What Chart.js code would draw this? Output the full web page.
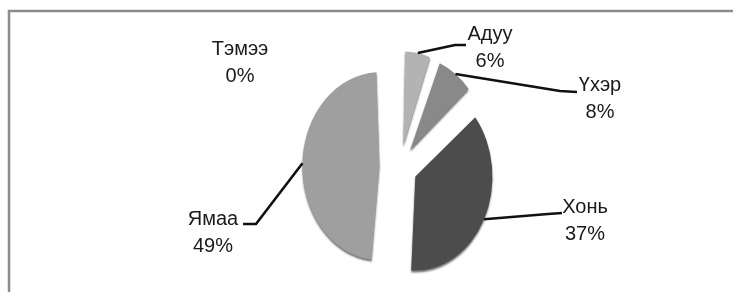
<!DOCTYPE html>
<html>
<head>
<meta charset="utf-8">
<title>Мал сүрэг</title>
<script src="https://cdn.jsdelivr.net/npm/chart.js@4.4.0/dist/chart.umd.min.js"></script>
<style>
  body { margin: 0; background: #fff; }
</style>
</head>
<body>
<canvas id="myChart" width="733" height="292"></canvas>
<script>
// Livestock share (%)
const categories = ["Адуу", "Үхэр", "Хонь", "Ямаа", "Тэмээ"];
const shares = [6, 8, 37, 49, 0];
const percentLabels = ["6%", "8%", "37%", "49%", "0%"];

const sliceColors = ["#b3b3b3", "#898989", "#4c4c4c", "#9f9f9f", "#cccccc"];
const sliceOffsets = [88, 84, 84, 100, 0];

const pieRadius = 94;
// the original pie is squeezed sideways
const squashX = 0.82;

// label anchors, relative to pie centre: [centre x, first baseline]
const labelAnchors = [[90, -127], [200, -76], [185, 46], [-187, 58], [-160, -112]];
// leader lines: elbow and end point relative to pie centre
const leaders = [
  [[55, -122], [66, -122]],
  [[160, -76], [177, -75]],
  [[148, 47], [162, 46]],
  [[-144, 57], [-157, 57]],
  null
];

// chart.js grows exploded slices by offset/4 * (1 - sin(angle)); undo that
function growth(arc) {
  const circ = arc.endAngle - arc.startAngle;
  return (arc.options.offset / 4) * (1 - Math.sin(Math.min(Math.PI, circ)));
}

const framePlugin = {
  id: "frame",
  beforeDraw(chart) {
    const ctx = chart.ctx;
    ctx.save();
    ctx.strokeStyle = "#8c8c8c";
    ctx.lineWidth = 2.5;
    ctx.strokeRect(9, 11, chart.width, chart.height);
    ctx.restore();
  }
};

const squashPlugin = {
  id: "squash",
  beforeDatasetsDraw(chart) {
    const ctx = chart.ctx;
    chart.getDatasetMeta(0).data.forEach(arc => {
      arc.outerRadius = pieRadius - growth(arc);
    });
    const cx = (chart.chartArea.left + chart.chartArea.right) / 2;
    ctx.save();
    ctx.translate(cx, 0);
    ctx.scale(squashX, 1);
    ctx.translate(-cx, 0);
    ctx.shadowColor = "rgba(0,0,0,0.55)";
    ctx.shadowBlur = 2;
    ctx.shadowOffsetY = 2;
  },
  afterDatasetsDraw(chart) {
    chart.ctx.restore();
  }
};

const labelPlugin = {
  id: "sliceLabels",
  afterDraw(chart) {
    const ctx = chart.ctx;
    const meta = chart.getDatasetMeta(0);
    ctx.save();
    ctx.font = "20px 'Liberation Sans', Arial, sans-serif";
    ctx.fillStyle = "#1a1a1a";
    ctx.textAlign = "center";
    ctx.textBaseline = "alphabetic";
    meta.data.forEach((arc, i) => {
      const cx = arc.x, cy = arc.y;
      const lead = leaders[i];
      if (lead && shares[i] > 0) {
        // start on the outer edge of the exploded slice, at its middle
        const mid = (arc.startAngle + arc.endAngle) / 2;
        const d = arc.options.offset / 4 + pieRadius;
        const sx = cx + squashX * Math.cos(mid) * d;
        const sy = cy + Math.sin(mid) * d;
        ctx.beginPath();
        ctx.strokeStyle = "#111";
        ctx.lineWidth = 2.6;
        ctx.lineJoin = "round";
        ctx.moveTo(sx, sy);
        ctx.lineTo(cx + lead[0][0], cy + lead[0][1]);
        ctx.lineTo(cx + lead[1][0], cy + lead[1][1]);
        ctx.stroke();
      }
      const a = labelAnchors[i];
      ctx.fillText(categories[i], cx + a[0], cy + a[1]);
      ctx.fillText(percentLabels[i], cx + a[0], cy + a[1] + 27);
    });
    ctx.restore();
  }
};

const myChart = document.getElementById("myChart");

new Chart(myChart, {
  type: "pie",
  data: {
    labels: categories,
    datasets: [
      {
        label: "Мал",
        data: shares,
        backgroundColor: sliceColors,
        borderWidth: 0,
        offset: sliceOffsets,
      },
    ],
  },
  options: {
    responsive: false,
    animation: false,
    devicePixelRatio: 1,
    radius: pieRadius,
    layout: {
      padding: { left: 67, right: 0, top: 42, bottom: 0 },
    },
    plugins: {
      legend: { display: false },
      tooltip: { enabled: false },
    },
  },
  plugins: [framePlugin, squashPlugin, labelPlugin],
});
</script>
</body>
</html>
